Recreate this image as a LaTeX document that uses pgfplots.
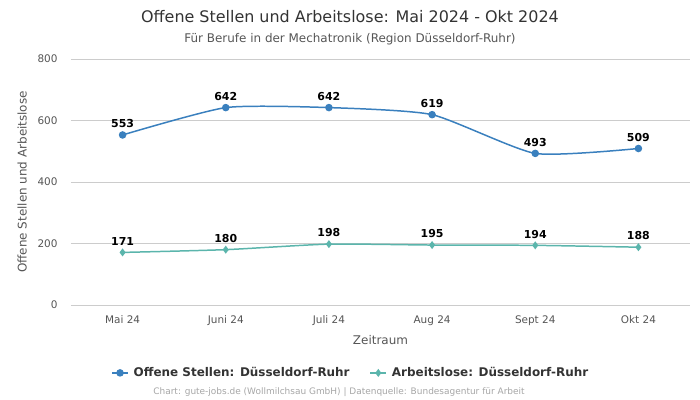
\documentclass[border=0pt]{standalone}
\usepackage{pgfplots}
\pgfplotsset{compat=1.18}
\usepackage{fontspec}
\setmainfont{DejaVu Sans}
\definecolor{cblue}{HTML}{3A80BE}
\definecolor{cteal}{HTML}{5BB5AC}
\definecolor{cgrid}{HTML}{CCCCCC}
\definecolor{ctick}{HTML}{555555}
\definecolor{ctitle}{HTML}{333333}
\begin{document}
\begin{tikzpicture}
\useasboundingbox (-71bp,-95bp) rectangle (629bp,305bp);
\begin{axis}[
  scale only axis, width=619bp, height=246bp,
  xmin=-0.5, xmax=5.5, ymin=0, ymax=800,
  xtick={0,1,2,3,4,5},
  xticklabels={Mai 24,Juni 24,Juli 24,Aug 24,Sept 24,Okt 24},
  ytick={0,200,400,600,800},
  axis line style={draw=none},
  major tick length=0pt,
  ymajorgrids, grid style={cgrid, line width=0.6pt},
  tick label style={font=\fontsize{10.5}{12}\selectfont, text=ctick},
  /pgf/number format/assume math mode=true,
  xticklabel style={yshift=-7bp},
  yticklabel style={xshift=-10bp},
  xlabel={Zeitraum}, xlabel style={font=\fontsize{12}{14}\selectfont, text=ctick, yshift=-3bp},
  ylabel={Offene Stellen und Arbeitslose}, ylabel style={font=\fontsize{12}{14}\selectfont, text=ctick, yshift=4bp},
  legend style={at={(0.452,-0.276)}, anchor=center, draw=none, fill=none,
    font=\bfseries\fontsize{12}{14}\selectfont, text=ctitle,
    /tikz/every odd column/.append style={column sep=3bp},
    /tikz/every even column/.append style={column sep=18bp}},
  legend columns=2,
  legend image code/.code={\draw[#1, mark repeat=2, mark phase=2] plot coordinates {(0cm,0cm) (0.28cm,0cm) (0.56cm,0cm)};},
  nodes near coords,
  every node near coord/.append style={font=\bfseries\fontsize{11}{13}\selectfont, text=black, yshift=3bp},
  clip=false,
]
\addplot[cblue, line width=1.5pt, smooth, tension=0.35, mark=*, mark size=3pt, mark options={fill=cblue}]
 coordinates {(0,553) (1,642) (2,642) (3,619) (4,493) (5,509)};
\addlegendentry{Offene Stellen: Düsseldorf-Ruhr}
\addplot[cteal, line width=1.5pt, smooth, tension=0.35, mark=diamond*, mark size=2.8pt, mark options={fill=cteal}]
 coordinates {(0,171) (1,180) (2,198) (3,195) (4,194) (5,188)};
\addlegendentry{Arbeitslose: Düsseldorf-Ruhr}
\end{axis}
\node[font=\fontsize{16}{19}\selectfont, text=ctitle] at (279bp,288bp) {Offene Stellen und Arbeitslose: Mai 2024 - Okt 2024};
\node[font=\fontsize{12}{14}\selectfont, text=ctick] at (279bp,266bp) {Für Berufe in der Mechatronik (Region Düsseldorf-Ruhr)};
\node[font=\fontsize{9}{11}\selectfont, text=gray!70] at (268bp,-87bp) {Chart: gute-jobs.de (Wollmilchsau GmbH) | Datenquelle: Bundesagentur für Arbeit};
\end{tikzpicture}
\end{document}
